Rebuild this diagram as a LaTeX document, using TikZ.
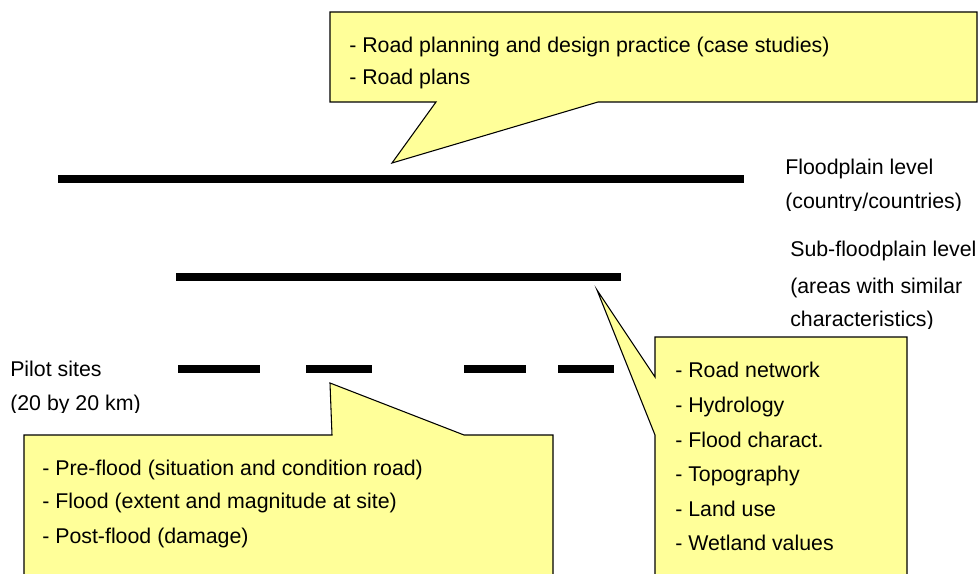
\documentclass[tikz,border=0pt]{standalone}
\usepackage{fontspec}
\setmainfont{Liberation Sans}
\definecolor{notefill}{RGB}{255,255,153}
\tikzset{
  lbl/.style={anchor=base west, inner sep=0pt, font=\fontsize{16}{19}\selectfont},
  level/.style={line width=6pt, line cap=butt},
  note/.style={draw=black, line width=0.8pt, fill=notefill, line join=miter}
}
\begin{document}
\begin{tikzpicture}[x=0.75pt, y=-0.75pt]
\useasboundingbox (0,0) rectangle (979,574);
\clip (0,0) rectangle (979,574);

% level bars
\coordinate (fpL) at (58,179);   \coordinate (fpR) at (744,179);
\coordinate (sfL) at (176,277);  \coordinate (sfR) at (621,277);
\draw[level] (fpL) -- (fpR);
\draw[level] (sfL) -- (sfR);
\coordinate (ps1a) at (178,369); \coordinate (ps1b) at (260,369);
\coordinate (ps2a) at (306,369); \coordinate (ps2b) at (372,369);
\coordinate (ps3a) at (464,369); \coordinate (ps3b) at (526,369);
\coordinate (ps4a) at (558,369); \coordinate (ps4b) at (614,369);
\draw[level] (ps1a) -- (ps1b);
\draw[level] (ps2a) -- (ps2b);
\draw[level] (ps3a) -- (ps3b);
\draw[level] (ps4a) -- (ps4b);

% level labels
\node[lbl] (fp1) at (785,175) {Floodplain level};
\begin{scope}
  \clip (780,185) rectangle (979,211);
  \node[lbl] (fp2) at (785,209) {(country/countries)};
\end{scope}
\node[lbl] (sf1) at (790,257) {Sub-floodplain level};
\node[lbl] (sf2) at (790,293) {(areas with similar};
\begin{scope}
  \clip (780,300) rectangle (979,328);
  \node[lbl] (sf3) at (790,326) {characteristics)};
\end{scope}
\node[lbl] (ps1) at (10,376) {Pilot sites};
\begin{scope}
  \clip (0,385) rectangle (200,412);
  \node[lbl] (ps2) at (10,410) {(20 by 20 km)};
\end{scope}

% callout for the floodplain level
\draw[note] (330,12) -- (977,12) -- (977,102) -- (598,102) -- (392,163)
  -- (436,102) -- (330,102) -- cycle;
\node[lbl] (t1) at (349,53) {- Road planning and design practice (case studies)};
\node[lbl] (t2) at (349,85) {- Road plans};

% callout for the sub-floodplain level
\draw[note] (655,337) -- (907,337) -- (907,590) -- (655,590) -- (655,435)
  -- (597,290) -- (655,377) -- cycle;
\node[lbl] (r1) at (675,377) {- Road network};
\node[lbl] (r2) at (675,412) {- Hydrology};
\node[lbl] (r3) at (675,447) {- Flood charact.};
\node[lbl] (r4) at (675,481) {- Topography};
\node[lbl] (r5) at (675,516) {- Land use};
\node[lbl] (r6) at (675,550) {- Wetland values};

% callout for the pilot sites
\draw[note] (24,435) -- (332,435) -- (330,383) -- (464,435) -- (553,435)
  -- (553,590) -- (24,590) -- cycle;
\node[lbl] (b1) at (42,475) {- Pre-flood (situation and condition road)};
\node[lbl] (b2) at (42,508) {- Flood (extent and magnitude at site)};
\node[lbl] (b3) at (42,543) {- Post-flood (damage)};
\end{tikzpicture}
\end{document}
